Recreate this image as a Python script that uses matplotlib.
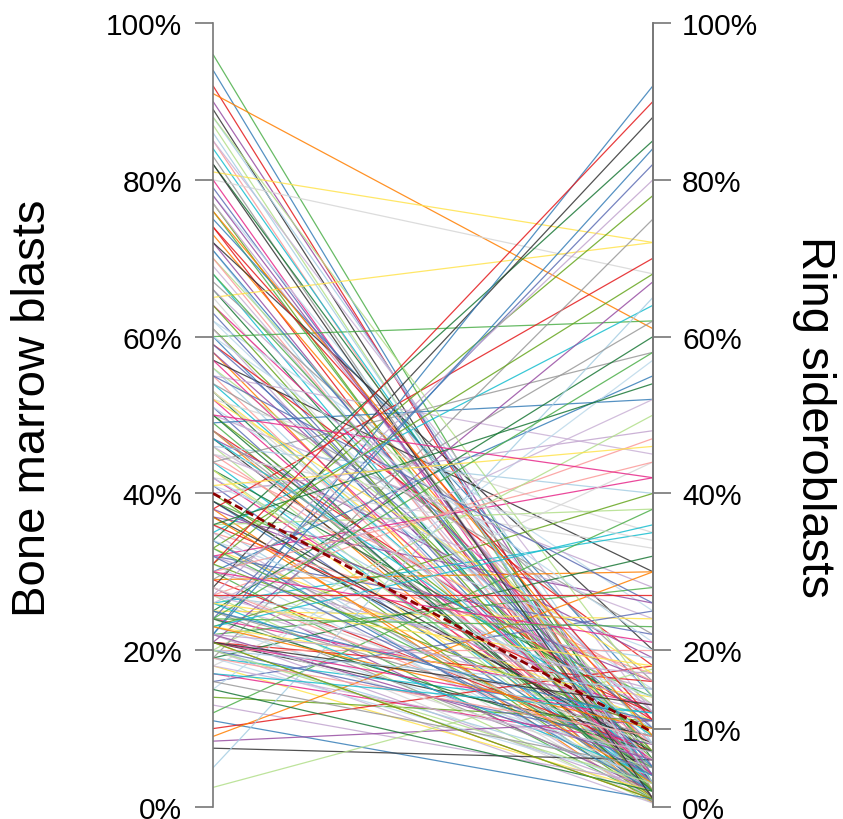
import matplotlib
matplotlib.use("Agg")
import matplotlib.pyplot as plt

plt.rcParams['font.family'] = ['Liberation Sans', 'DejaVu Sans']

# Paired values: bone marrow blasts (%) -> ring sideroblasts (%)
blasts = [96, 94, 92, 91, 90, 89, 88, 87, 85, 85, 84, 83, 82, 81, 80, 80, 79, 78, 77, 77,
          76, 75, 74, 73, 72, 72, 71, 70, 70,
          69, 68, 67, 66, 65, 65, 64, 63, 62, 61, 61, 60, 60, 59, 58, 58, 57, 56, 56, 55, 55,
          54, 54, 53, 53, 52, 52, 51, 51, 50, 50, 49, 49, 48, 48, 47, 47, 46, 46, 45, 45,
          44, 44, 43, 43, 42, 42, 41, 41, 40, 40, 39, 39, 38, 38, 37, 37, 36, 36, 35, 35, 35,
          34, 34, 33, 33, 32, 32, 31, 31, 30, 30, 30, 29, 29, 28, 28, 27, 27, 27, 26, 26, 25, 25, 25,
          24, 24, 24, 23, 23, 22, 22, 22, 21, 21, 21, 21, 20, 20, 20, 20, 19, 19, 19, 18, 18,
          17, 16, 15, 14, 13, 12, 11, 10, 9, 8.4, 7.5, 5, 2.5,
          28, 27, 26, 25, 24, 23, 22, 21, 20, 19, 31, 32, 33, 34, 36, 37, 38, 39, 42, 43,
          44, 46, 47, 48, 50, 52, 53, 57, 59, 62, 64, 66, 68, 71, 74, 76, 78, 82, 86, 88,
          30, 26, 23, 29, 36, 41, 45, 50, 55, 60, 33, 27, 24, 22, 31,
          23, 22, 21, 20, 20, 19, 18, 17, 16, 15, 26, 28, 30, 32, 34, 21, 22, 24, 25, 27]
sideroblasts = [3, 1, 2, 61, 5, 1, 8, 2, 1, 12, 4, 0.5, 6, 72, 68, 1, 3, 10, 0.5, 5,
                2, 14, 1, 7, 3, 20, 1, 9, 2,
                4, 1, 16, 3, 72, 0.5, 11, 2, 25, 6, 1, 62, 3, 18, 1, 8, 30, 2, 13, 1, 45,
                5, 22, 1, 9, 35, 3, 0.5, 15, 7, 28, 2, 52, 11, 1, 19, 4, 40, 1, 8, 24,
                3, 58, 12, 1, 33, 6, 2, 20, 1, 48, 14, 4, 70, 0.5, 26, 8, 2, 38, 17, 1, 64,
                5, 85, 11, 1, 42, 22, 3, 78, 15, 1, 55, 7, 30, 2, 88, 19, 0.5, 47, 10, 35, 3, 60, 24,
                1, 13, 82, 6, 40, 2, 28, 92, 16, 1, 67, 9, 4, 50, 20, 0.5, 12, 75, 32, 2, 44,
                8, 25, 57, 11, 3, 38, 1, 18, 30, 11, 6, 65, 17.6,
                6, 12, 4, 9, 7, 14, 5, 11, 8, 3, 10, 13, 5, 2, 12, 3, 16, 7, 10, 4,
                16, 13, 9, 5, 2, 17, 6, 4, 10, 8, 2, 12, 7, 5, 11, 9, 4, 1, 3, 14,
                44, 52, 36, 62, 54, 46, 34, 42, 26, 21, 68, 80, 58, 84, 90,
                10, 6, 13, 15, 3, 9, 7, 12, 5, 2, 18, 8, 21, 4, 14, 1, 17, 23, 11, 27]

median_blasts = 40
median_sideroblasts = 9.5

palette = ['#4daf4a', '#377eb8', '#e41a1c', '#ff7f00', '#984ea3', '#333333', '#a6cee3',
           '#b2df8a', '#fb9a99', '#cab2d6', '#17becf', '#999999', '#1b7837', '#ffe34d',
           '#d6d6d6', '#e7298a', '#5e6eb5', '#bcd9ea', '#66a61e', '#c2a5cf']

left_ticks = [0, 20, 40, 60, 80, 100]
right_ticks = [0, 10, 20, 40, 60, 80, 100]

fig = plt.figure(figsize=(8.43, 8.2), dpi=100)
ax = fig.add_axes([213 / 843, 12 / 820, 440 / 843, 784 / 820])

for i, (a, b) in enumerate(zip(blasts, sideroblasts)):
    ax.plot([0, 1], [a, b], color=palette[i % len(palette)], lw=0.9, alpha=0.85,
            solid_capstyle='butt')

ax.plot([0, 1], [median_blasts, median_sideroblasts], color='#8b0000', lw=2.0,
        ls=(0, (3, 1.5)), zorder=5)

ax.set_xlim(0, 1)
ax.set_ylim(0, 100)
for s in ['top', 'bottom']:
    ax.spines[s].set_visible(False)
for s in ['left', 'right']:
    ax.spines[s].set_color('#777777')
    ax.spines[s].set_linewidth(1.2)
ax.set_xticks([])
ax.set_yticks(left_ticks)
ax.set_yticklabels([f'{t}%' for t in left_ticks])
ax.tick_params(axis='y', length=13, width=1.2, color='#777777', labelsize=21.5, pad=9)

ax2 = ax.twinx()
ax2.set_ylim(0, 100)
for s in ['top', 'bottom', 'left']:
    ax2.spines[s].set_visible(False)
ax2.spines['right'].set_color('#777777')
ax2.spines['right'].set_linewidth(1.2)
ax2.set_yticks(right_ticks)
ax2.set_yticklabels([f'{t}%' for t in right_ticks])
ax2.tick_params(axis='y', length=13, width=1.2, color='#777777', labelsize=21.5, pad=8)

fig.text(33 / 843, 1 - 408 / 820, 'Bone marrow blasts', rotation=90, fontsize=34,
         ha='center', va='center')
fig.text(814 / 843, 1 - 417 / 820, 'Ring sideroblasts', rotation=-90, fontsize=34,
         ha='center', va='center')

fig.savefig('out.png', dpi=100)
